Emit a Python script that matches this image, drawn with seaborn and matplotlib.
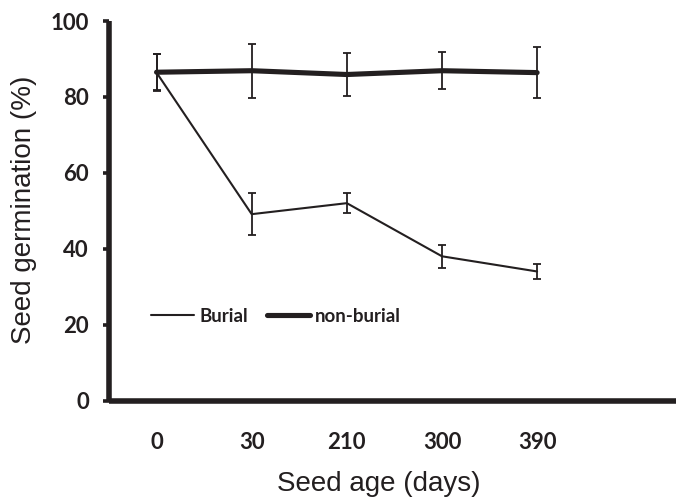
import matplotlib
matplotlib.use("Agg")
import matplotlib.pyplot as plt
import seaborn as sns
import pandas as pd

# ---- data ----
ages = ["0", "30", "210", "300", "390"]
burial = [86.4, 49.1, 52.0, 38.0, 34.0]
burial_err = [4.8, 5.5, 2.6, 3.1, 2.1]
nonburial = [86.5, 86.9, 85.9, 86.9, 86.4]
nonburial_err = [4.8, 7.1, 5.75, 4.8, 6.75]
yticks = [0, 20, 40, 60, 80, 100]

INK = "#231f20"

sns.set_theme(style="white")
plt.rcParams["font.family"] = ["Liberation Sans", "DejaVu Sans"]

pos = list(range(len(ages)))
df = pd.DataFrame({"pos": pos, "burial": burial, "nonburial": nonburial})

L, T, B = 109, 21, 400.5
fig = plt.figure(figsize=(6.76, 4.97), dpi=100)
ax = fig.add_axes([L / 676, 1 - B / 497, 1 - L / 676, (B - T) / 497])
W, H = 676 - L, B - T

sns.lineplot(data=df, x="pos", y="nonburial", ax=ax, color=INK, linewidth=3.7,
             label="non-burial", zorder=3)
sns.lineplot(data=df, x="pos", y="burial", ax=ax, color=INK, linewidth=1.5,
             label="Burial", zorder=4)
ax.errorbar(pos, nonburial, yerr=nonburial_err, fmt="none", ecolor=INK,
            elinewidth=1.3, capsize=3.0, capthick=1.3, zorder=5)
ax.errorbar(pos, burial, yerr=burial_err, fmt="none", ecolor=INK,
            elinewidth=1.3, capsize=3.0, capthick=1.3, zorder=5)

ax.set_xlim(-0.50, 5.46)
ax.set_ylim(0, 100)
ax.set_xticks(pos)
ax.set_xticklabels(ages)
ax.set_yticks(yticks)

for s in ["top", "right"]:
    ax.spines[s].set_visible(False)
for s in ["left", "bottom"]:
    ax.spines[s].set_visible(True)
    ax.spines[s].set_linewidth(4.0)
    ax.spines[s].set_color(INK)
    ax.spines[s].set_capstyle("butt")

for lab in ax.get_xticklabels() + ax.get_yticklabels():
    lab.set_fontfamily(["Lato", "DejaVu Sans"])
    lab.set_fontweight("bold")
    lab.set_fontsize(16)
    lab.set_color(INK)

ax.tick_params(axis="y", direction="out", length=4.5, width=2.6, color=INK, pad=10, left=True)
ax.tick_params(axis="x", length=0, pad=23)

ax.set_xlabel("Seed age (days)", fontsize=20, color=INK)
ax.set_ylabel("Seed germination (%)", fontsize=20, color=INK)
ax.xaxis.set_label_coords((379 - L) / W, -(484 - B) / H, transform=ax.transAxes)
ax.yaxis.set_label_coords(-(L - 24) / W, (B - 210) / H, transform=ax.transAxes)
ax.xaxis.label.set_va("center")
ax.yaxis.label.set_va("center")

h, l = ax.get_legend_handles_labels()
order = [l.index("Burial"), l.index("non-burial")]
leg = ax.legend([h[i] for i in order], [l[i] for i in order], ncol=2,
                loc="center left", bbox_to_anchor=((151 - L) / W, (B - 316) / H),
                frameon=False, borderpad=0, borderaxespad=0,
                handlelength=2.3, handletextpad=0.28, columnspacing=1.0,
                prop=dict(family=["Lato", "DejaVu Sans"], weight="bold", size=13.5))
for t in leg.get_texts():
    t.set_color(INK)

fig.savefig("out.png", dpi=100)
